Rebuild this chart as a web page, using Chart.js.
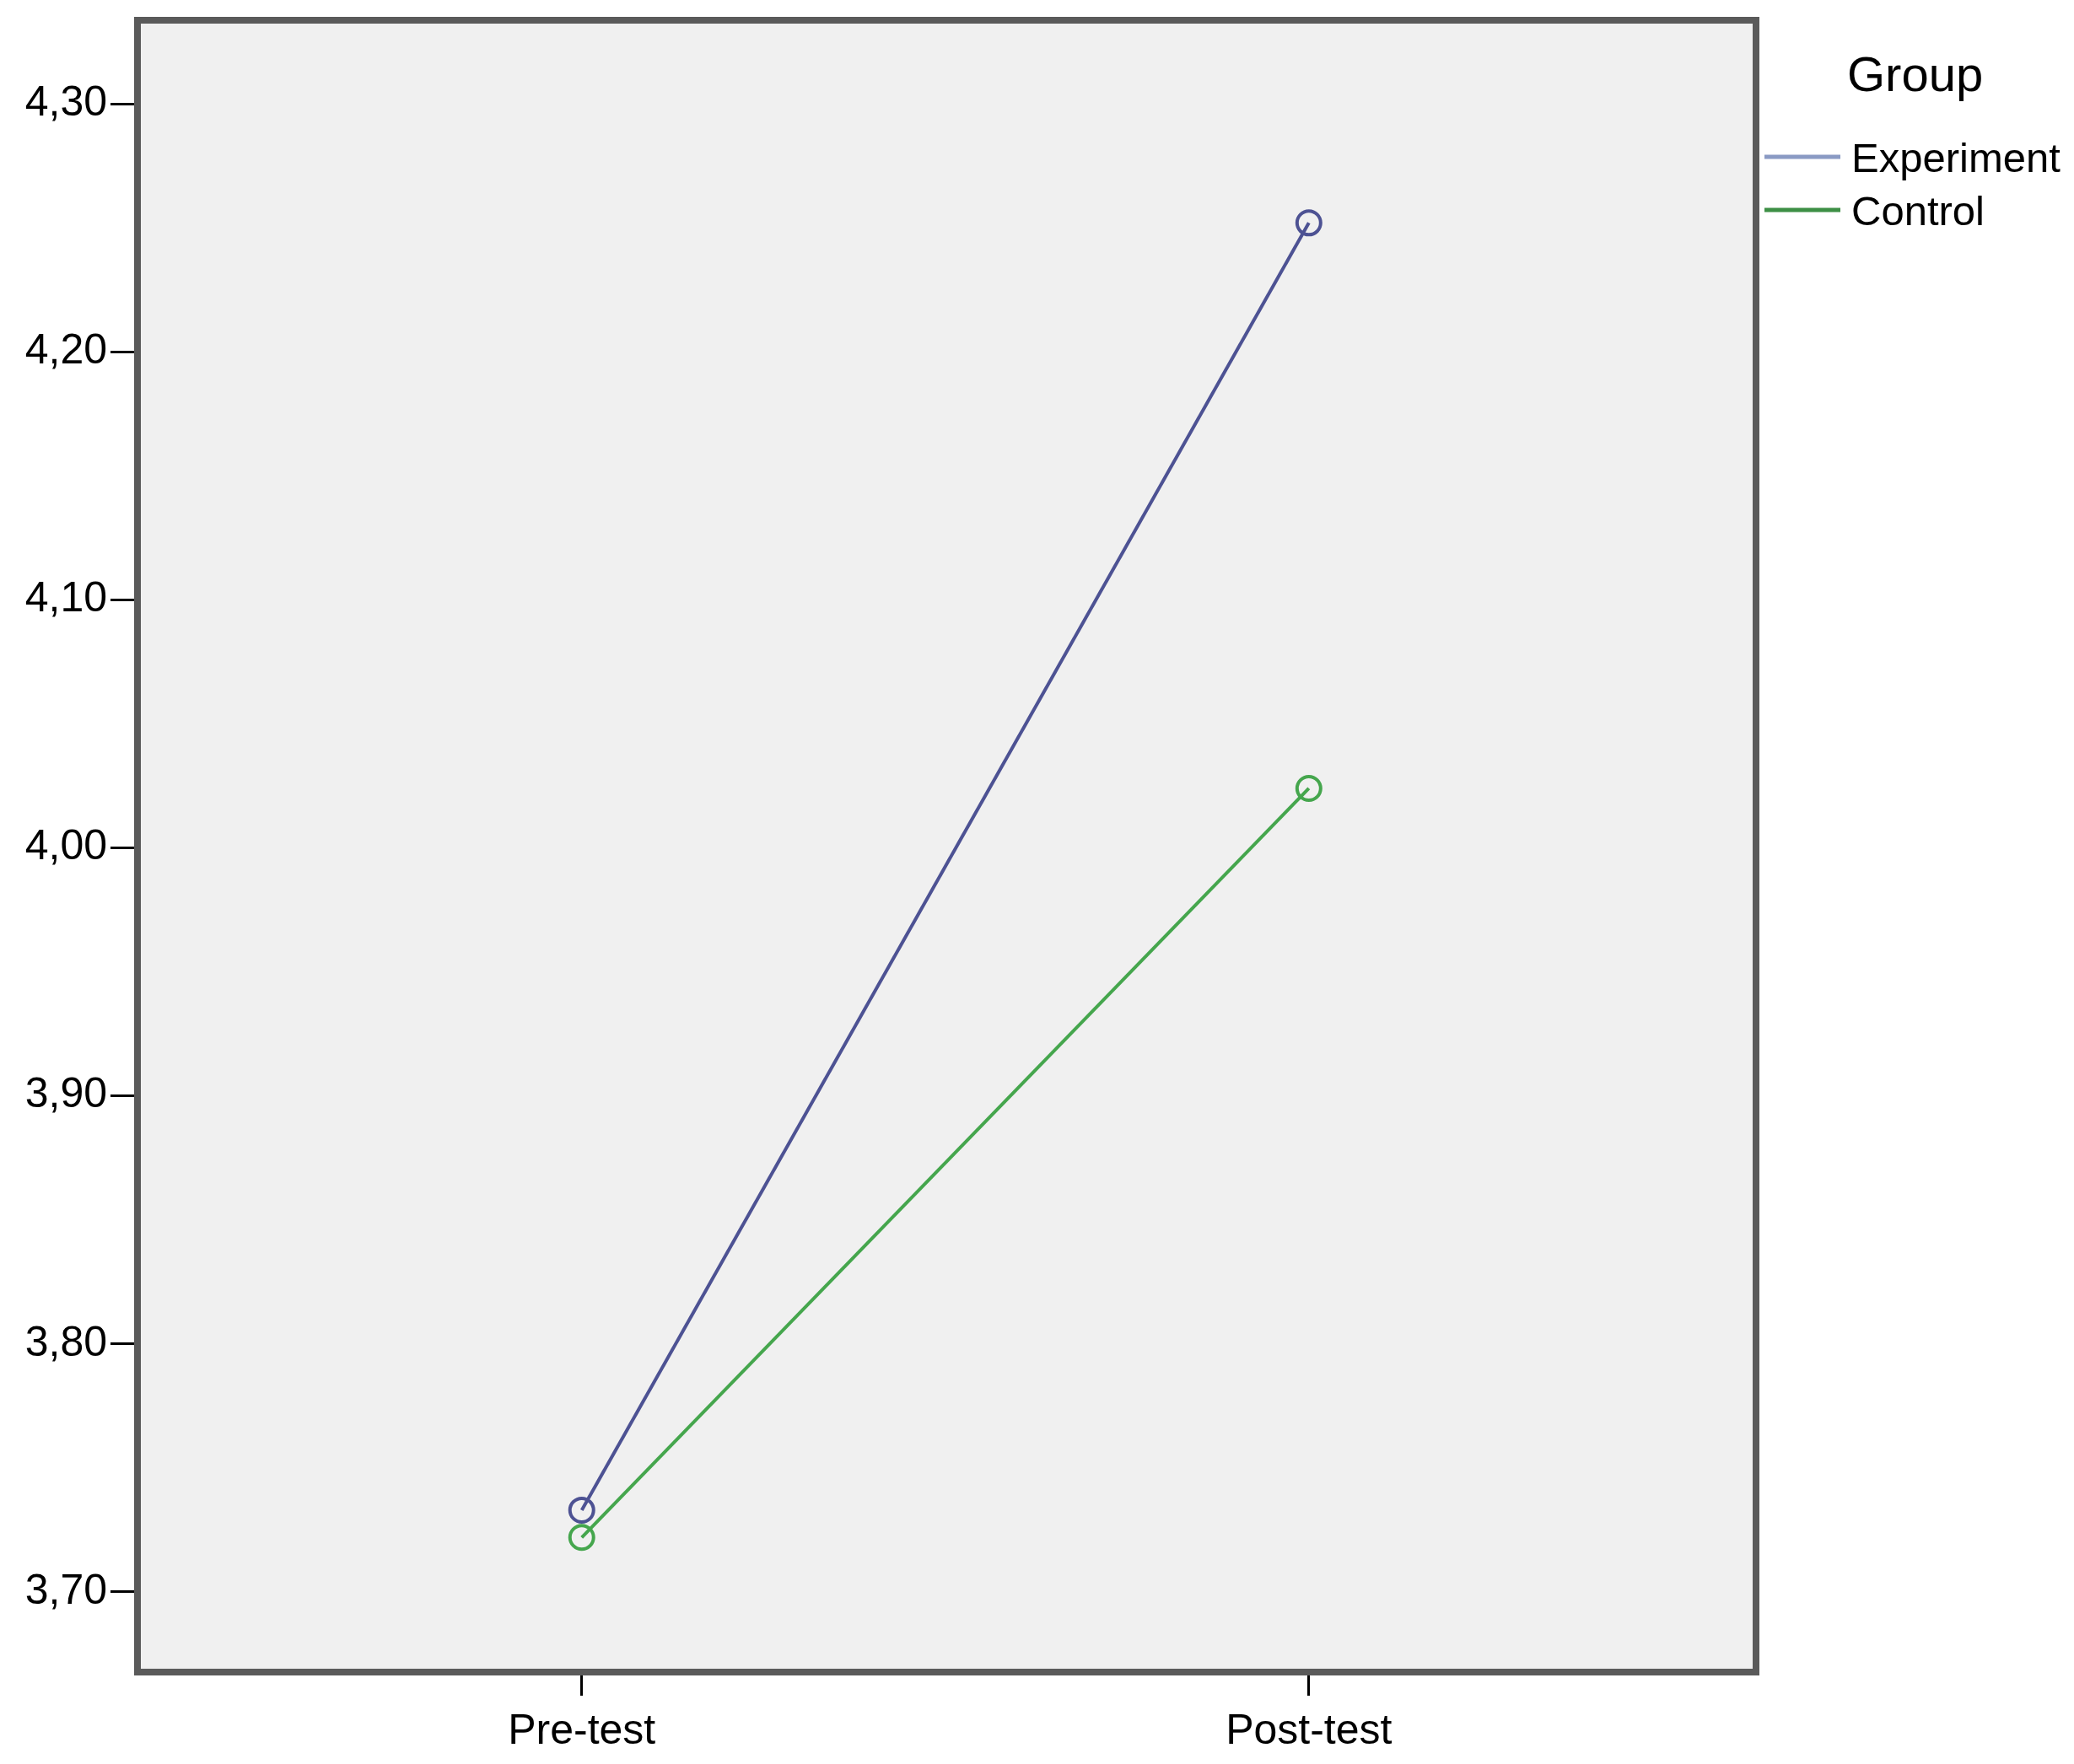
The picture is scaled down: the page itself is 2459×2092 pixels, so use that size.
<!DOCTYPE html>
<html>
<head>
<meta charset="utf-8">
<script src="https://cdn.jsdelivr.net/npm/chart.js@4"></script>
<style>
  html, body { margin: 0; padding: 0; background: #fff; }
  #wrap { width: 2459px; height: 2092px; }
</style>
</head>
<body>
<div id="wrap"><canvas id="myChart" width="2459" height="2092"></canvas></div>
<script>
// data
const tags = ['Pre-test', 'Post-test'];
const experiment = [3.733, 4.252];
const control = [3.722, 4.024];
const yTicks = [3.70, 3.80, 3.90, 4.00, 4.10, 4.20, 4.30];
const groupNames = ['Experiment', 'Control'];

const FONT = "'Liberation Sans', Arial, sans-serif";

// grey panel + dark frame round the plot area
const framePlugin = {
  id: 'frame',
  beforeDatasetsDraw(chart) {
    const a = chart.chartArea, ctx = chart.ctx;
    ctx.save();
    ctx.fillStyle = '#f0f0f0';
    ctx.fillRect(a.left, a.top, a.right - a.left, a.bottom - a.top);
    ctx.restore();
  },
  afterDatasetsDraw(chart) {
    const a = chart.chartArea, ctx = chart.ctx;
    ctx.save();
    ctx.strokeStyle = '#5a5a5a';
    ctx.lineWidth = 8;
    ctx.strokeRect(a.left, a.top, a.right - a.left, a.bottom - a.top);
    ctx.restore();
  }
};

// SPSS style legend on the right
const groupLegend = {
  id: 'groupLegend',
  afterDraw(chart) {
    const ctx = chart.ctx;
    const a = chart.chartArea;
    ctx.save();
    ctx.fillStyle = '#000';
    ctx.textBaseline = 'middle';
    ctx.font = '58px ' + FONT;
    ctx.fillText('Group', 2190, 92);
    ctx.font = '49px ' + FONT;
    chart.data.datasets.forEach(function (ds, i) {
      const y = 186 + i * 63;
      ctx.strokeStyle = ds.legendColor;
      ctx.lineWidth = 5;
      ctx.beginPath();
      ctx.moveTo(a.right + 10, y);
      ctx.lineTo(a.right + 100, y);
      ctx.stroke();
      ctx.fillStyle = '#000';
      ctx.fillText(ds.label, 2195, y + 4);
    });
    ctx.restore();
  }
};

const data = {
  datasets: [
    {
      label: groupNames[0],
      data: experiment.map(function (v, i) { return { x: i, y: v }; }),
      borderColor: '#4d5293',
      legendColor: '#8a9ac4',
      borderWidth: 4,
      pointRadius: 14,
      pointBorderWidth: 4,
      pointBackgroundColor: 'rgba(0,0,0,0)',
      pointBorderColor: '#4d5293'
    },
    {
      label: groupNames[1],
      data: control.map(function (v, i) { return { x: i, y: v }; }),
      borderColor: '#45a64d',
      legendColor: '#3d8f45',
      borderWidth: 4,
      pointRadius: 14,
      pointBorderWidth: 4,
      pointBackgroundColor: 'rgba(0,0,0,0)',
      pointBorderColor: '#45a64d'
    }
  ]
};

const config = {
  type: 'line',
  data: data,
  plugins: [framePlugin, groupLegend],
  options: {
    responsive: false,
    animation: false,
    layout: { padding: { top: 24, right: 377, left: 0, bottom: 0 } },
    plugins: { legend: { display: false }, tooltip: { enabled: false } },
    scales: {
      x: {
        type: 'linear',
        min: -0.611,
        max: 1.615,
        afterBuildTicks: function (scale) {
          scale.ticks = tags.map(function (t, i) { return { value: i }; });
        },
        afterFit: function (scale) {
          scale.height = 109;
          scale.paddingLeft = 0;
          scale.paddingRight = 0;
        },
        border: { display: false },
        grid: { drawOnChartArea: false, color: '#000', lineWidth: 3, tickLength: 28 },
        ticks: {
          color: '#000',
          font: { family: FONT, size: 50 },
          padding: 13,
          autoSkip: false,
          maxRotation: 0,
          callback: function (v) { return tags[v]; }
        }
      },
      y: {
        min: 3.6677,
        max: 4.3337,
        afterBuildTicks: function (scale) {
          scale.ticks = yTicks.map(function (v) { return { value: v }; });
        },
        afterFit: function (scale) {
          scale.width = 163;
          scale.paddingTop = 0;
          scale.paddingBottom = 0;
        },
        border: { display: false },
        grid: { drawOnChartArea: false, color: '#000', lineWidth: 3, tickLength: 32 },
        ticks: {
          color: '#000',
          font: { family: FONT, size: 50 },
          padding: 4,
          callback: function (v) { return v.toFixed(2).replace('.', ','); }
        }
      }
    }
  }
};

const myChart = new Chart(document.getElementById('myChart'), config);
</script>
</body>
</html>
